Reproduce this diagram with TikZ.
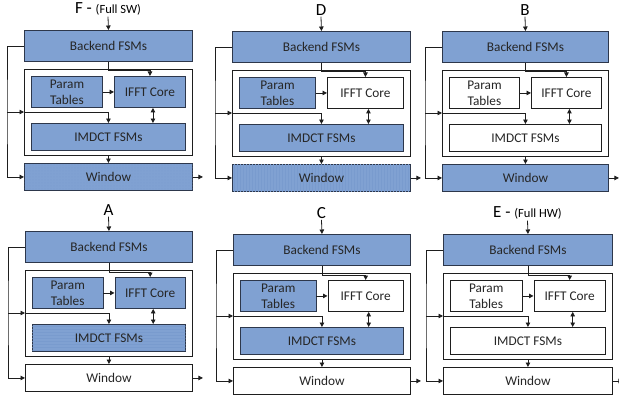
\documentclass[tikz,border=0pt]{standalone}
\usepackage{fontspec}
\setmainfont{Carlito}
\usetikzlibrary{arrows.meta,patterns}
\definecolor{bfill}{RGB}{128,161,210}
\definecolor{bline}{RGB}{45,55,75}
\definecolor{bpat}{RGB}{121,155,206}
\definecolor{ink}{RGB}{30,30,30}
\tikzset{
 box/.style={draw=ink, line width=0.9pt, inner sep=0pt, anchor=north west, font=\fontsize{13.3}{16}\selectfont, align=center, text=black!85},
 bb/.style={fill=bfill, draw=bline},
 wb/.style={fill=white},
 bv/.style={bb, postaction={pattern=vertical lines, pattern color=bpat}},
 bh/.style={bb, postaction={pattern=horizontal lines, pattern color=bpat}},
 bd/.style={bb, postaction={pattern=dots, pattern color=bpat}},
 cont/.style={draw=ink, line width=0.9pt, fill=white, inner sep=0pt, anchor=north west},
 lbl/.style={font=\fontsize{17}{20}\selectfont, inner sep=1pt},
 conn/.style={draw=ink, line width=0.8pt, -{Triangle[length=4.5pt,width=4.5pt]}},
 dconn/.style={draw=ink, line width=0.8pt, {Triangle[length=4.5pt,width=4.5pt]}-{Triangle[length=4.5pt,width=4.5pt]}},
}
% #1 prefix, #2 x, #3 y0, #4 width, #5 label, #6 param, #7 ifft, #8 imdct, #9 window
\newcommand{\mkpanel}[9]{%
 \pgfmathsetmacro{\pw}{(#4-26)/2}%
 \pgfmathsetmacro{\iw}{#4-14}%
 \node[lbl] (#1lab) at (#2+#4/2,#3-21) {#5};
 \node[box,bb,minimum width=#4pt,minimum height=31pt] (#1be) at (#2,#3) {Backend FSMs};
 \node[cont,minimum width=#4pt,minimum height=86pt] (#1ct) at (#2,#3+39) {};
 \node[box,#6,minimum width=\pw pt,minimum height=31pt] (#1pm) at (#2+7,#3+46) {Param\\Tables};
 \node[box,#7,minimum width=\pw pt,minimum height=31pt] (#1if) at (#2+19+\pw,#3+46) {IFFT Core};
 \node[box,#8,minimum width=\iw pt,minimum height=27pt] (#1im) at (#2+7,#3+93) {IMDCT FSMs};
 \node[box,#9,minimum width=#4pt,minimum height=27pt] (#1wn) at (#2,#3+133) {Window};
 \coordinate (#1L) at (#2-17,#3+82);
 \coordinate (#1out) at ([xshift=10pt]#1wn.east);
 \draw[conn] (#1lab.south) -- (#1be.north);
 \draw[conn] (#1be.south) -- ++(0,9) -| (#1if.north);
 \draw[conn] (#1pm.east) -- (#1if.west);
 \draw[dconn] ([xshift=3pt]#1if.south) -- ([xshift=3pt]#1if.south |- #1im.north);
 \draw[conn] (#1be.west) -| (#1L) |- (#1wn.west);
 \draw[conn] (#1L) -- (#1L -| #1ct.west);
 \draw[conn] (#1L -| #1ct.west) -| (#1im.north);
 \draw[conn] (#1ct.south) -- (#1wn.north);
 \draw[conn] (#1wn.east) -- (#1out);
}
\begin{document}
\begin{tikzpicture}[x=1pt,y=-1pt]
\useasboundingbox (0,0) rectangle (619,396);
\mkpanel{F}{24}{30}{168}{F - {\fontsize{12.5}{15}\selectfont(Full SW)}}{bb}{bb}{bb}{bd}
\mkpanel{D}{232}{31}{178}{D}{bb}{wb}{bb}{bv}
\mkpanel{B}{442}{31}{166}{B}{wb}{wb}{wb}{bb}
\mkpanel{A}{25}{231}{167}{A}{bb}{bb}{bh}{wb}
\mkpanel{C}{233}{234}{177}{C}{bb}{wb}{bb}{wb}
\mkpanel{E}{443}{234}{169}{E - {\fontsize{12.5}{15}\selectfont(Full HW)}}{wb}{wb}{wb}{wb}
\end{tikzpicture}
\end{document}
